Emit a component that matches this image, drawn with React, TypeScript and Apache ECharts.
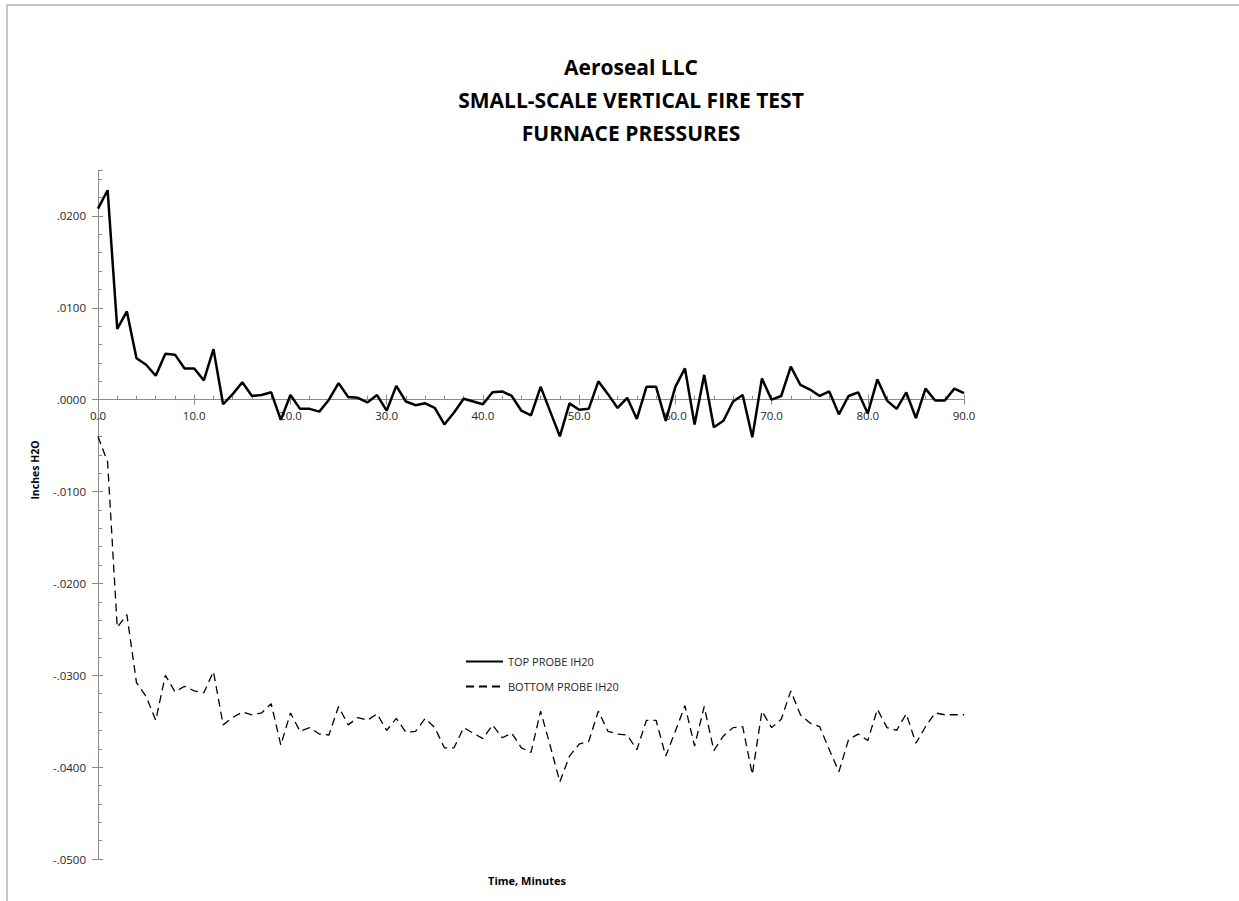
import React, { useEffect, useRef } from "react";
import * as echarts from "echarts";

const titleLines = ["Aeroseal LLC", "SMALL-SCALE VERTICAL FIRE TEST", "FURNACE PRESSURES"];
const seriesNames = ["TOP PROBE IH20", "BOTTOM PROBE IH20"];
const xName = "Time, Minutes";
const yName = "Inches H2O";

// minutes 0..90
const minutes: number[] = Array.from({ length: 91 }, (_, i) => i);

const topProbe: number[] = [
  0.0208, 0.0228, 0.0077, 0.0096, 0.0045, 0.0038, 0.0026, 0.0050, 0.0049, 0.0034,
  0.0034, 0.0021, 0.0055, -0.0005, 0.0006, 0.0019, 0.0004, 0.0005, 0.0008, -0.0022,
  0.0005, -0.0010, -0.0010, -0.0013, 0.0000, 0.0018, 0.0003, 0.0002, -0.0003, 0.0005,
  -0.0012, 0.0015, -0.0002, -0.0006, -0.0004, -0.0009, -0.0027, -0.0014, 0.0001, -0.0002,
  -0.0005, 0.0008, 0.0009, 0.0004, -0.0012, -0.0017, 0.0014, -0.0013, -0.0040, -0.0004,
  -0.0011, -0.0010, 0.0020, 0.0006, -0.0009, 0.0002, -0.0021, 0.0014, 0.0014, -0.0023,
  0.0014, 0.0034, -0.0027, 0.0027, -0.0030, -0.0023, -0.0002, 0.0005, -0.0041, 0.0023,
  0.0000, 0.0004, 0.0036, 0.0016, 0.0011, 0.0004, 0.0009, -0.0016, 0.0004, 0.0008,
  -0.0015, 0.0022, -0.0001, -0.0010, 0.0008, -0.0020, 0.0012, -0.0001, -0.0001, 0.0012,
  0.0007,
];

const bottomProbe: number[] = [
  -0.0040, -0.0068, -0.0248, -0.0234, -0.0308, -0.0323, -0.0349, -0.0300, -0.0318, -0.0312,
  -0.0317, -0.0319, -0.0296, -0.0354, -0.0346, -0.0340, -0.0343, -0.0341, -0.0331, -0.0376,
  -0.0341, -0.0361, -0.0357, -0.0364, -0.0365, -0.0334, -0.0354, -0.0346, -0.0349, -0.0342,
  -0.0360, -0.0347, -0.0362, -0.0361, -0.0347, -0.0357, -0.0379, -0.0379, -0.0357, -0.0363,
  -0.0369, -0.0354, -0.0368, -0.0363, -0.0379, -0.0384, -0.0339, -0.0377, -0.0416, -0.0388,
  -0.0375, -0.0372, -0.0339, -0.0361, -0.0364, -0.0365, -0.0381, -0.0349, -0.0349, -0.0388,
  -0.0361, -0.0333, -0.0377, -0.0334, -0.0382, -0.0366, -0.0357, -0.0356, -0.0408, -0.0339,
  -0.0357, -0.0348, -0.0317, -0.0343, -0.0352, -0.0356, -0.0381, -0.0405, -0.0370, -0.0364,
  -0.0371, -0.0337, -0.0357, -0.0360, -0.0342, -0.0374, -0.0356, -0.0341, -0.0343, -0.0343,
  -0.0343,
];

const Y_MIN = -0.05;
const Y_MAX = 0.025;

const FONT = "'Open Sans', 'Liberation Sans', sans-serif";
const AXIS_COLOR = "#8c8c8c";
const TEXT_COLOR = "#262626";

const GRID = { left: 98, right: 275, top: 170, bottom: 42 };
const CHART_H = 901;

const fmtY = (v: number) => {
  if (Math.abs(v) < 1e-9) return ".0000";
  const s = Math.abs(v).toFixed(4).replace(/^0/, "");
  return (v < 0 ? "-" : "") + s;
};

export default function App() {
  const ref = useRef<HTMLDivElement>(null);
  useEffect(() => {
    if (!ref.current) return;
    const chart = echarts.init(ref.current, undefined, { renderer: "svg" });
    const gridH = CHART_H - GRID.top - GRID.bottom;
    // move the x axis up from the grid bottom to the y = 0 line
    const zeroOffset = -(gridH * (0 - Y_MIN)) / (Y_MAX - Y_MIN);
    const yCommon = {
      type: "value" as const,
      min: Y_MIN,
      max: Y_MAX,
      interval: 0.01,
      position: "left" as const,
      offset: 0,
      splitLine: { show: false },
    };
    const xCommon = {
      type: "value" as const,
      min: 0,
      max: 90,
      interval: 10,
      position: "bottom" as const,
      offset: zeroOffset,
      splitLine: { show: false },
    };
    chart.setOption({
      animation: false,
      backgroundColor: "#ffffff",
      title: {
        text: titleLines.join("\n"),
        left: 626,
        top: 45,
        textAlign: "center",
        textStyle: {
          fontFamily: FONT,
          fontWeight: "bold",
          fontSize: 21,
          lineHeight: 33,
          color: "#000000",
        },
      },
      legend: {
        orient: "vertical",
        left: 460,
        top: 651,
        itemWidth: 37,
        itemHeight: 12,
        itemGap: 14,
        itemStyle: { opacity: 0 },
        textStyle: { fontFamily: FONT, fontSize: 11, color: TEXT_COLOR },
        data: seriesNames,
      },
      grid: GRID,
      xAxis: [
        {
          ...xCommon,
          axisLine: { onZero: false, lineStyle: { color: AXIS_COLOR, width: 1 } },
          axisTick: { show: true, inside: false, length: 5, lineStyle: { color: AXIS_COLOR } },
          minorTick: { show: false },
          axisLabel: {
            margin: 10,
            fontFamily: FONT,
            fontSize: 11.5,
            color: TEXT_COLOR,
            formatter: (v: number) => v.toFixed(1),
          },
        },
        {
          ...xCommon,
          axisLine: { show: false, onZero: false },
          axisTick: { show: true, inside: true, length: 5, lineStyle: { color: AXIS_COLOR } },
          minorTick: { show: true, splitNumber: 5, length: 4, lineStyle: { color: AXIS_COLOR } },
          axisLabel: { show: false },
        },
      ],
      yAxis: [
        {
          ...yCommon,
          axisLine: { show: true, onZero: false, lineStyle: { color: AXIS_COLOR, width: 1 } },
          axisTick: { show: true, inside: false, length: 6, lineStyle: { color: AXIS_COLOR } },
          minorTick: { show: false },
          axisLabel: {
            margin: 12,
            showMaxLabel: false,
            fontFamily: FONT,
            fontSize: 11.5,
            color: TEXT_COLOR,
            formatter: (v: number) => (v > 0.0245 ? "" : fmtY(v)),
          },
        },
        {
          ...yCommon,
          axisLine: { show: false, onZero: false },
          axisTick: { show: true, inside: true, length: 5, lineStyle: { color: AXIS_COLOR } },
          minorTick: { show: true, splitNumber: 5, length: 4, lineStyle: { color: AXIS_COLOR } },
          axisLabel: { show: false },
        },
      ],
      graphic: [
        {
          type: "rect",
          shape: { x: 7, y: 5, width: 1260, height: 920 },
          style: { fill: "none", stroke: "#b4b4b4", lineWidth: 1.5 },
          silent: true,
          z: -10,
        },
        {
          type: "text",
          x: 35,
          y: 470,
          rotation: Math.PI / 2,
          style: {
            text: yName,
            fontFamily: FONT,
            fontWeight: "bold",
            fontSize: 10.5,
            fill: "#000000",
            textAlign: "center",
            textVerticalAlign: "middle",
          },
        },
        {
          type: "text",
          x: 527,
          y: 880,
          style: {
            text: xName,
            fontFamily: FONT,
            fontWeight: "bold",
            fontSize: 11,
            fill: "#000000",
            textAlign: "center",
            textVerticalAlign: "middle",
          },
        },
      ],
      series: [
        {
          name: seriesNames[0],
          type: "line",
          xAxisIndex: 0,
          yAxisIndex: 0,
          symbol: "none",
          data: minutes.map((m, i) => [m, topProbe[i]]),
          lineStyle: { color: "#000000", width: 2.5, type: "solid" },
          itemStyle: { color: "#000000" },
        },
        {
          name: seriesNames[1],
          type: "line",
          xAxisIndex: 0,
          yAxisIndex: 0,
          symbol: "none",
          data: minutes.map((m, i) => [m, bottomProbe[i]]),
          lineStyle: { color: "#000000", width: 1.3, type: [8, 5] },
          itemStyle: { color: "#000000" },
        },
      ],
    });
    return () => chart.dispose();
  }, []);
  return (
    <div
      ref={ref}
      style={{ position: "absolute", left: 0, top: 0, width: 1239, height: 901 }}
    />
  );
}
